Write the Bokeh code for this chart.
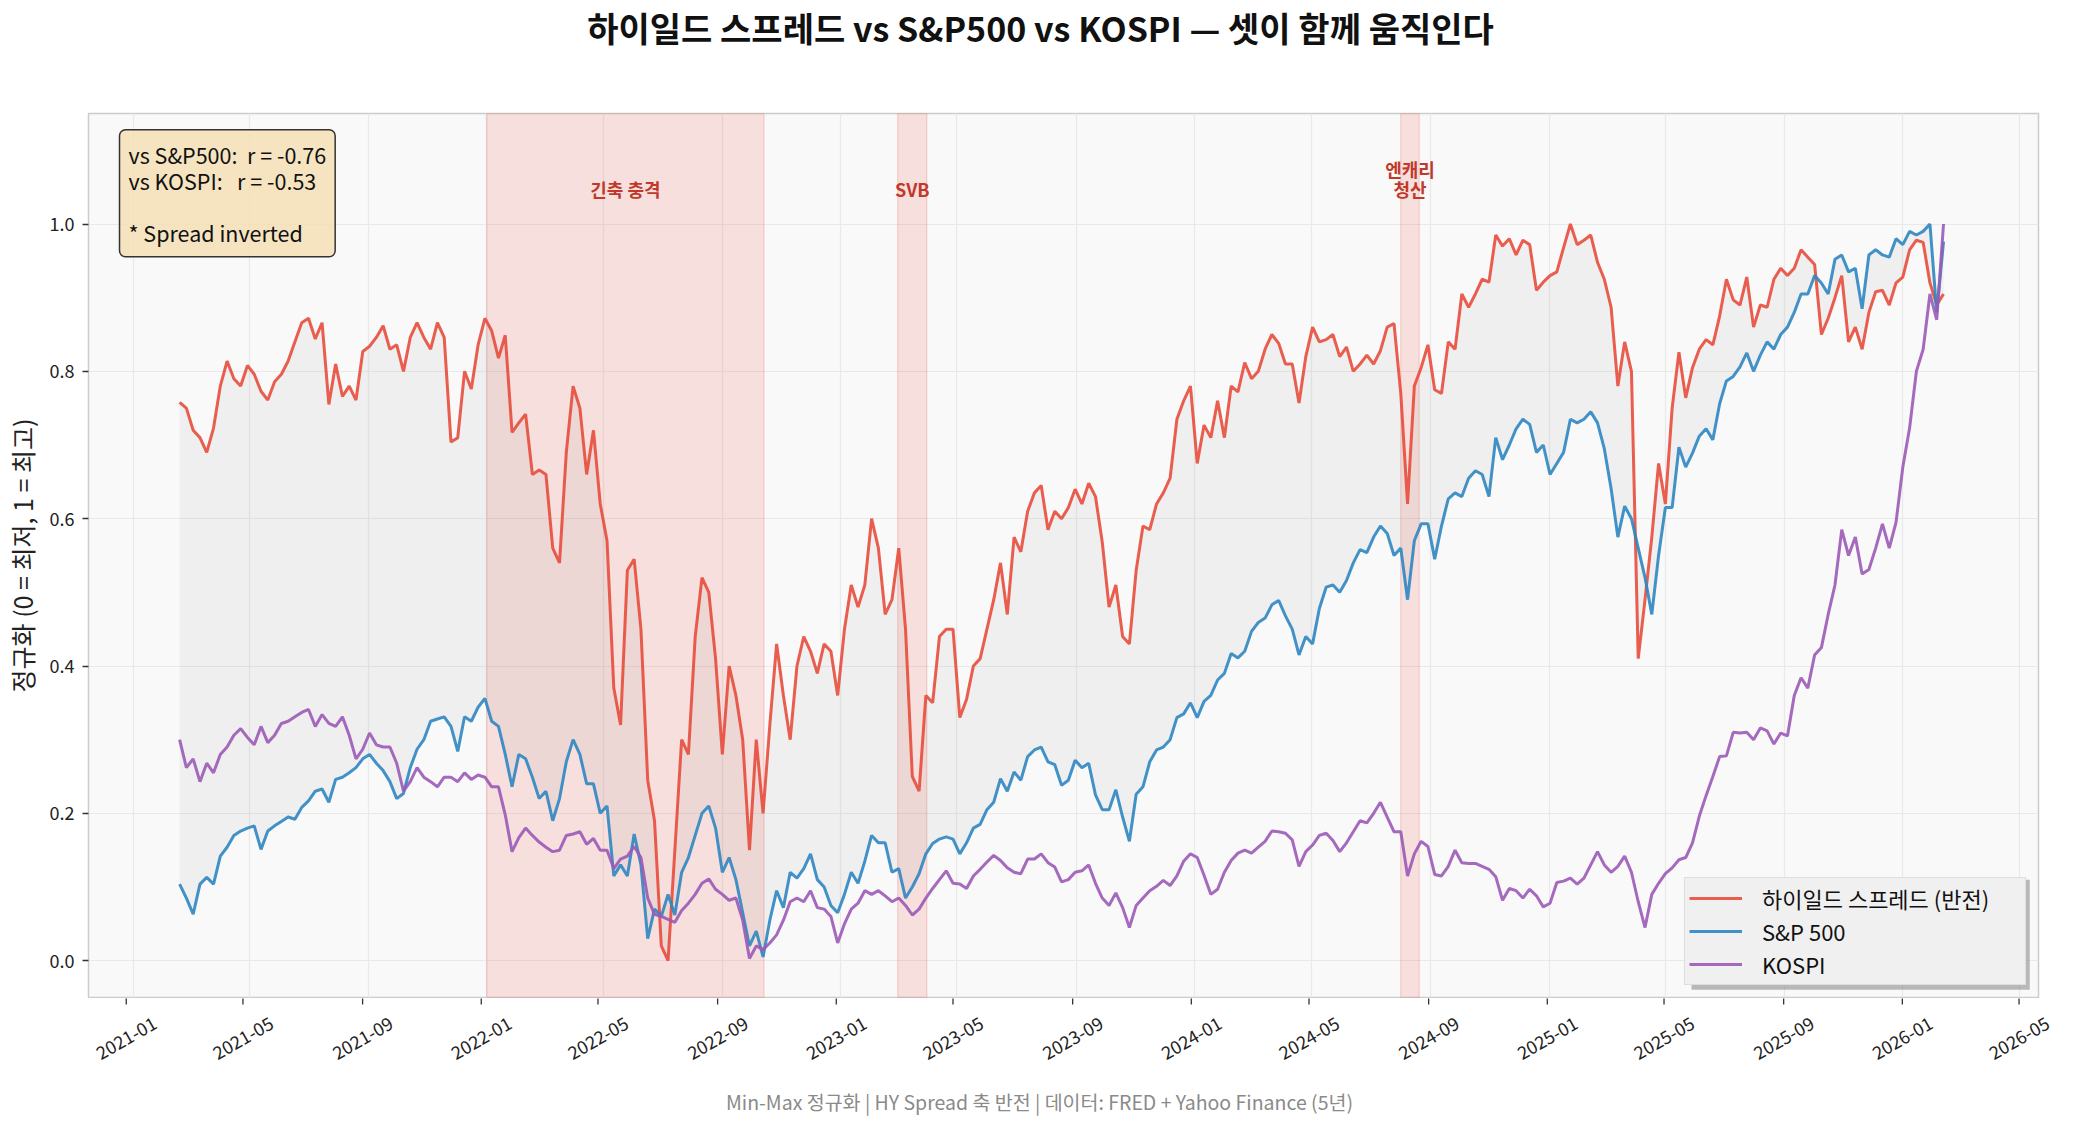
import pandas as pd
from bokeh.plotting import figure
from bokeh.layouts import column
from bokeh.models import (Plot, Range1d, FixedTicker, BoxAnnotation, Label, Legend,
                          ColumnDataSource)
from bokeh.core.properties import value
from bokeh.embed import file_html
from bokeh.resources import INLINE

FONT = "Noto Sans CJK KR"

# weekly closes, min-max normalised (HY spread axis inverted)
start_date = "2021-02-18"

hy_spread_inv = [
    0.758, 0.750, 0.720, 0.710, 0.690, 0.723, 0.780, 0.814, 0.790, 0.780,
    0.808, 0.796, 0.773, 0.761, 0.786, 0.796, 0.814, 0.840, 0.866, 0.872,
    0.844, 0.866, 0.755, 0.810, 0.766, 0.780, 0.761, 0.827, 0.834, 0.846,
    0.862, 0.830, 0.836, 0.800, 0.846, 0.866, 0.846, 0.830, 0.866, 0.846,
    0.704, 0.710, 0.800, 0.776, 0.836, 0.872, 0.855, 0.818, 0.849, 0.717,
    0.730, 0.742, 0.660, 0.666, 0.660, 0.560, 0.540, 0.690, 0.780, 0.750,
    0.660, 0.720, 0.620, 0.570, 0.370, 0.320, 0.530, 0.545, 0.450, 0.245,
    0.190, 0.020, 0.000, 0.150, 0.300, 0.280, 0.440, 0.520, 0.500, 0.410,
    0.280, 0.400, 0.360, 0.300, 0.150, 0.300, 0.200, 0.320, 0.430, 0.360,
    0.300, 0.400, 0.440, 0.420, 0.390, 0.430, 0.420, 0.360, 0.450, 0.510,
    0.480, 0.510, 0.600, 0.560, 0.470, 0.490, 0.560, 0.450, 0.250, 0.230,
    0.360, 0.350, 0.440, 0.450, 0.450, 0.330, 0.355, 0.400, 0.410, 0.450,
    0.490, 0.540, 0.470, 0.575, 0.555, 0.610, 0.635, 0.645, 0.585, 0.610,
    0.600, 0.615, 0.640, 0.620, 0.648, 0.630, 0.568, 0.480, 0.510, 0.440,
    0.430, 0.530, 0.590, 0.585, 0.620, 0.635, 0.655, 0.735, 0.760, 0.780,
    0.675, 0.727, 0.710, 0.760, 0.710, 0.780, 0.772, 0.812, 0.790, 0.800,
    0.830, 0.850, 0.838, 0.810, 0.810, 0.757, 0.820, 0.860, 0.840, 0.843,
    0.850, 0.820, 0.833, 0.800, 0.810, 0.822, 0.810, 0.828, 0.860, 0.865,
    0.770, 0.620, 0.780, 0.805, 0.836, 0.775, 0.770, 0.840, 0.830, 0.905,
    0.887, 0.905, 0.925, 0.921, 0.985, 0.970, 0.980, 0.958, 0.978, 0.972,
    0.910, 0.921, 0.930, 0.935, 0.968, 1.000, 0.972, 0.978, 0.985, 0.948,
    0.925, 0.887, 0.780, 0.840, 0.800, 0.410, 0.490, 0.575, 0.675, 0.620,
    0.750, 0.826, 0.764, 0.805, 0.830, 0.843, 0.836, 0.875, 0.925, 0.897,
    0.890, 0.928, 0.860, 0.890, 0.887, 0.925, 0.940, 0.930, 0.940, 0.965,
    0.955, 0.945, 0.850, 0.872, 0.900, 0.930, 0.840, 0.860, 0.830, 0.880,
    0.908, 0.910, 0.890, 0.920, 0.928, 0.965, 0.978, 0.975, 0.920, 0.890,
    0.905,
]

sp500 = [
    0.104, 0.085, 0.063, 0.104, 0.113, 0.104, 0.142, 0.154, 0.170, 0.176,
    0.180, 0.183, 0.151, 0.176, 0.183, 0.189, 0.195, 0.192, 0.208, 0.217,
    0.230, 0.233, 0.215, 0.246, 0.249, 0.255, 0.262, 0.274, 0.280, 0.268,
    0.258, 0.243, 0.220, 0.227, 0.262, 0.287, 0.300, 0.325, 0.328, 0.331,
    0.318, 0.284, 0.331, 0.325, 0.344, 0.356, 0.325, 0.318, 0.280, 0.236,
    0.280, 0.274, 0.249, 0.220, 0.230, 0.190, 0.220, 0.270, 0.300, 0.280,
    0.240, 0.240, 0.200, 0.210, 0.115, 0.130, 0.115, 0.172, 0.130, 0.030,
    0.070, 0.060, 0.090, 0.062, 0.120, 0.140, 0.170, 0.200, 0.210, 0.180,
    0.120, 0.140, 0.110, 0.065, 0.020, 0.040, 0.005, 0.055, 0.095, 0.072,
    0.120, 0.112, 0.125, 0.145, 0.110, 0.100, 0.075, 0.065, 0.090, 0.120,
    0.105, 0.135, 0.170, 0.160, 0.160, 0.120, 0.125, 0.085, 0.100, 0.118,
    0.145, 0.159, 0.165, 0.168, 0.165, 0.145, 0.160, 0.180, 0.185, 0.205,
    0.215, 0.247, 0.230, 0.256, 0.245, 0.277, 0.286, 0.290, 0.270, 0.266,
    0.238, 0.245, 0.272, 0.262, 0.268, 0.225, 0.205, 0.205, 0.232, 0.195,
    0.162, 0.226, 0.236, 0.270, 0.286, 0.290, 0.300, 0.330, 0.335, 0.350,
    0.330, 0.352, 0.360, 0.381, 0.390, 0.417, 0.411, 0.420, 0.447, 0.459,
    0.465, 0.483, 0.489, 0.468, 0.450, 0.415, 0.440, 0.430, 0.478, 0.507,
    0.510, 0.500, 0.516, 0.540, 0.558, 0.554, 0.575, 0.590, 0.580, 0.550,
    0.560, 0.490, 0.570, 0.593, 0.593, 0.545, 0.590, 0.627, 0.635, 0.630,
    0.655, 0.665, 0.660, 0.630, 0.710, 0.680, 0.700, 0.722, 0.735, 0.728,
    0.690, 0.700, 0.660, 0.675, 0.690, 0.735, 0.730, 0.735, 0.745, 0.730,
    0.695, 0.641, 0.575, 0.617, 0.600, 0.560, 0.520, 0.470, 0.550, 0.615,
    0.615, 0.697, 0.670, 0.689, 0.712, 0.722, 0.707, 0.756, 0.787, 0.793,
    0.806, 0.825, 0.800, 0.822, 0.840, 0.830, 0.850, 0.860, 0.880, 0.905,
    0.905, 0.930, 0.920, 0.905, 0.952, 0.958, 0.935, 0.940, 0.885, 0.958,
    0.965, 0.958, 0.955, 0.980, 0.972, 0.990, 0.985, 0.990, 1.000, 0.880,
    0.976,
]

kospi = [
    0.300, 0.262, 0.274, 0.243, 0.268, 0.255, 0.280, 0.290, 0.306, 0.315,
    0.303, 0.293, 0.318, 0.296, 0.306, 0.322, 0.325, 0.331, 0.337, 0.341,
    0.318, 0.334, 0.322, 0.318, 0.331, 0.306, 0.274, 0.287, 0.309, 0.293,
    0.290, 0.290, 0.268, 0.230, 0.243, 0.262, 0.249, 0.243, 0.236, 0.249,
    0.249, 0.243, 0.255, 0.246, 0.252, 0.249, 0.236, 0.236, 0.198, 0.148,
    0.167, 0.180, 0.170, 0.161, 0.154, 0.148, 0.150, 0.170, 0.172, 0.175,
    0.158, 0.166, 0.150, 0.150, 0.125, 0.138, 0.142, 0.155, 0.140, 0.085,
    0.063, 0.060, 0.056, 0.052, 0.068, 0.078, 0.090, 0.105, 0.111, 0.097,
    0.090, 0.082, 0.085, 0.055, 0.003, 0.020, 0.015, 0.024, 0.035, 0.055,
    0.080, 0.085, 0.080, 0.095, 0.072, 0.070, 0.060, 0.024, 0.050, 0.070,
    0.078, 0.095, 0.090, 0.095, 0.088, 0.080, 0.085, 0.075, 0.062, 0.070,
    0.085, 0.098, 0.110, 0.122, 0.105, 0.104, 0.098, 0.115, 0.124, 0.134,
    0.143, 0.136, 0.126, 0.120, 0.118, 0.138, 0.138, 0.145, 0.133, 0.127,
    0.107, 0.110, 0.120, 0.122, 0.130, 0.105, 0.085, 0.075, 0.092, 0.072,
    0.045, 0.075, 0.085, 0.095, 0.101, 0.109, 0.102, 0.115, 0.135, 0.145,
    0.140, 0.116, 0.090, 0.097, 0.120, 0.136, 0.146, 0.150, 0.146, 0.154,
    0.162, 0.176, 0.175, 0.173, 0.164, 0.128, 0.148, 0.157, 0.170, 0.173,
    0.163, 0.148, 0.160, 0.175, 0.190, 0.187, 0.200, 0.215, 0.195, 0.175,
    0.175, 0.115, 0.145, 0.162, 0.155, 0.117, 0.115, 0.128, 0.150, 0.133,
    0.132, 0.132, 0.128, 0.124, 0.114, 0.082, 0.098, 0.095, 0.085, 0.097,
    0.088, 0.073, 0.078, 0.106, 0.108, 0.112, 0.104, 0.112, 0.130, 0.148,
    0.130, 0.120, 0.128, 0.142, 0.120, 0.080, 0.045, 0.090, 0.105, 0.118,
    0.126, 0.137, 0.140, 0.160, 0.196, 0.224, 0.250, 0.277, 0.278, 0.310,
    0.309, 0.310, 0.300, 0.316, 0.312, 0.294, 0.309, 0.305, 0.360, 0.384,
    0.370, 0.415, 0.425, 0.470, 0.510, 0.585, 0.550, 0.575, 0.525, 0.531,
    0.560, 0.593, 0.560, 0.595, 0.670, 0.723, 0.800, 0.830, 0.905, 0.870,
    1.000,
]

r_sp500 = -0.76
r_kospi = -0.53

event_labels = ["긴축 충격", "SVB", "엔캐리\n청산"]
event_start = ["2022-01-01", "2023-03-01", "2024-08-01"]
event_end = ["2022-10-14", "2023-03-31", "2024-08-20"]

x_tick_labels = ["2021-01", "2021-05", "2021-09", "2022-01", "2022-05", "2022-09",
                 "2023-01", "2023-05", "2023-09", "2024-01", "2024-05", "2024-09",
                 "2025-01", "2025-05", "2025-09", "2026-01", "2026-05"]
y_ticks = [0.0, 0.2, 0.4, 0.6, 0.8, 1.0]

TITLE = "하이일드 스프레드 vs S&P500 vs KOSPI — 셋이 함께 움직인다"
FOOTNOTE = "Min-Max 정규화 | HY Spread 축 반전 | 데이터: FRED + Yahoo Finance (5년)"

dates = pd.date_range(start_date, periods=len(hy_spread_inv), freq="7D")
src = ColumnDataSource(dict(date=dates, hy=hy_spread_inv, sp=sp500, kospi=kospi))

W = 2062
BL, BR = 81, 24
x_start, x_end = pd.Timestamp("2020-11-16"), pd.Timestamp("2026-05-21")
per_px = (x_end - x_start) / (W - BL - BR)

# strips above/below can either keep their own full-width frame or get
# their frame lined up with the chart's frame by the column layout
free_frames = "frame_align" in Plot.properties()
if free_frames:
    head_x = Range1d(0, W)
    foot_x = Range1d(x_start - BL * per_px, x_end + BR * per_px)
else:
    head_x = Range1d(BL, W - BR)
    foot_x = Range1d(x_start, x_end)


def bare(height, x_range, y_range):
    f = figure(width=W, height=height, x_range=x_range, y_range=y_range,
               x_axis_location=None, y_axis_location=None, min_border=0,
               output_backend="svg", toolbar_location=None,
               outline_line_color=None, background_fill_color="white",
               border_fill_color="white")
    f.xgrid.grid_line_color = None
    f.ygrid.grid_line_color = None
    if free_frames:
        f.frame_align = False
    return f


# ---- title strip
head = bare(92, head_x, Range1d(0, 92))
head.text(x=[1040], y=[65], text=[TITLE], text_align="center", text_baseline="middle",
          text_font=value(FONT), text_font_size="34px", text_font_style="bold",
          text_color="#111111")

# ---- main chart
p = figure(
    width=W, height=906,
    x_range=Range1d(x_start, x_end),
    y_range=Range1d(-0.05, 1.15),
    title=None, x_axis_location=None,
    output_backend="svg", toolbar_location=None,
    min_border_left=BL, min_border_right=BR, min_border_top=21, min_border_bottom=1,
    background_fill_color="#f9f9f9", border_fill_color="white",
)
yax = p.left[0]

p.outline_line_color = "#cccccc"
p.outline_line_width = 1.5
tick_dates = [pd.Timestamp(t + "-01") for t in x_tick_labels]
tick_ms = [d.value // 10**6 for d in tick_dates]
p.xgrid.ticker = FixedTicker(ticks=tick_ms)
p.xgrid.grid_line_color = "#e9e9e9"
p.ygrid.grid_line_color = "#e9e9e9"
p.xgrid.grid_line_width = 1.2
p.ygrid.grid_line_width = 1.2

yax.ticker = FixedTicker(ticks=y_ticks)
yax.major_label_overrides = {t: f"{t:.1f}" for t in y_ticks}
yax.axis_line_color = None
yax.major_tick_line_color = "#333333"
yax.major_tick_line_width = 1.3
yax.major_tick_out = 6
yax.major_tick_in = 0
yax.minor_tick_line_color = None
yax.major_label_text_font = FONT
yax.major_label_text_font_size = "18px"
yax.major_label_text_color = "#222222"
yax.major_label_standoff = 8
yax.axis_label = "정규화 (0 = 최저, 1 = 최고)"
yax.axis_label_text_font = FONT
yax.axis_label_text_font_size = "25px"
yax.axis_label_text_font_style = "normal"
yax.axis_label_text_color = "#222222"
yax.axis_label_standoff = 7

# event windows
for s, e in zip(event_start, event_end):
    p.add_layout(BoxAnnotation(left=pd.Timestamp(s), right=pd.Timestamp(e),
                               fill_color="#e74c3c", fill_alpha=0.15,
                               line_color="#e74c3c", line_alpha=0.25, line_width=1,
                               level="underlay"))
ev_mid = [pd.Timestamp(s) + (pd.Timestamp(e) - pd.Timestamp(s)) / 2
          for s, e in zip(event_start, event_end)]
ev_src = ColumnDataSource(dict(x=ev_mid, text=event_labels))
p.text(x="x", y=1.03, text="text", source=ev_src, text_align="center",
       text_baseline="bottom", text_font=value(FONT), text_font_size="18px",
       text_font_style="bold", text_color="#c0392b", text_line_height=0.75)

# gap between spread and S&P
p.varea(x="date", y1="sp", y2="hy", source=src, fill_color="#808080", fill_alpha=0.08)

r_hy = p.line("date", "hy", source=src, line_color="#e74c3c", line_width=3, line_alpha=0.9)
r_sp = p.line("date", "sp", source=src, line_color="#2e86c1", line_width=3, line_alpha=0.9)
r_ks = p.line("date", "kospi", source=src, line_color="#9b59b6", line_width=3, line_alpha=0.9)

nb = "\u00a0"
stats = (f"vs S&P500:{nb * 2}r = {r_sp500:.2f}\n"
         f"vs KOSPI:{nb * 3}r = {r_kospi:.2f}\n\n"
         "* Spread inverted")
p.add_layout(Label(x=pd.Timestamp("2020-12-18"), y=1.128, text=stats,
                   text_align="left", text_baseline="top",
                   text_font=FONT, text_font_size="21.5px", text_color="#111111",
                   text_line_height=0.84, padding=9, border_radius=6,
                   background_fill_color="#f5deb3", background_fill_alpha=0.8,
                   border_line_color="#333333", border_line_width=1.5))

# legend drop shadow
p.add_layout(BoxAnnotation(left=pd.Timestamp("2025-05-28"), right=pd.Timestamp("2026-05-12"),
                           top=0.110, bottom=-0.0394,
                           fill_color="#8c8c8c", fill_alpha=0.6, line_color=None))

legend = Legend(items=[("하이일드 스프레드 (반전)", [r_hy]), ("S&P 500", [r_sp]), ("KOSPI", [r_ks])],
                location="bottom_right", margin=12, padding=4, spacing=1,
                glyph_width=53, glyph_height=26, label_height=26, label_width=259,
                label_standoff=20,
                label_text_font=FONT, label_text_font_size="22px", label_text_color="#111111",
                background_fill_color="#f0f0f0", background_fill_alpha=1.0,
                border_line_color="#cccccc", border_line_width=1.5)
p.add_layout(legend)

# ---- date axis strip + footnote (same time scale as the chart frame)
foot = bare(120, foot_x, Range1d(0, 120))
tick_src = ColumnDataSource(dict(x=tick_dates, text=x_tick_labels))
foot.segment(x0="x", y0=121, x1="x", y1=114, source=tick_src,
             line_color="#333333", line_width=1.3)
foot.text(x="x", y=80.5, text="text", source=tick_src, angle=0.5236,
          text_align="center", text_baseline="middle",
          text_font=value(FONT), text_font_size="18px", text_color="#222222")
foot.text(x=[x_start + (1039 - BL) * per_px], y=[17], text=[FOOTNOTE],
          text_align="center", text_baseline="middle",
          text_font=value(FONT), text_font_size="19.5px", text_color="#8a8a8a")

layout = column(head, p, foot, spacing=0)
open("out.html", "w").write(file_html(layout, INLINE))
